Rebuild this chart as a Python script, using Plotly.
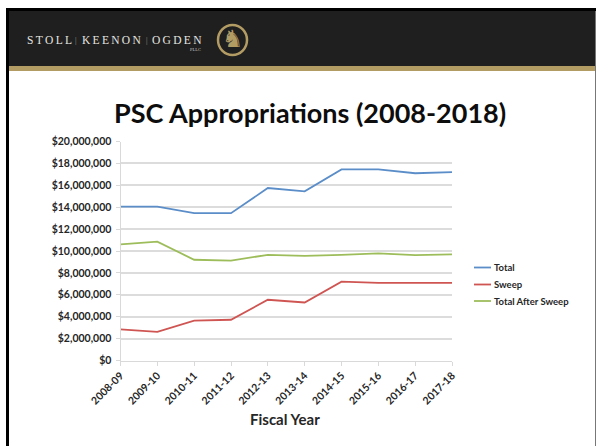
import plotly.graph_objects as go

W, H = 596, 446

fiscal_years = ["2008-09", "2009-10", "2010-11", "2011-12", "2012-13",
                "2013-14", "2014-15", "2015-16", "2016-17", "2017-18"]
total = [14050000, 14050000, 13450000, 13450000, 15750000,
         15450000, 17450000, 17450000, 17100000, 17200000]
sweep = [2850000, 2620000, 3650000, 3720000, 5550000,
         5300000, 7200000, 7080000, 7080000, 7080000]
after_sweep = [10600000, 10850000, 9200000, 9120000, 9650000,
               9550000, 9650000, 9780000, 9620000, 9700000]
y_ticks = list(range(0, 20000001, 2000000))
y_labels = [f"${v:,}" for v in y_ticks]

series_names = ["Total", "Sweep", "Total After Sweep"]
series_colors = ["#5b8ec9", "#cf5552", "#9dbd5b"]


def px(x):
    return x / W


def py(y):
    return 1 - y / H


def rect(x0, y0, x1, y1, color):
    return dict(type="rect", xref="paper", yref="paper", layer="below",
                x0=px(x0), x1=px(x1), y0=py(y0), y1=py(y1),
                fillcolor=color, line_width=0)


def label(x, y, text, size, color="#111111", family="Lato", anchor="center", bold=False):
    return dict(xref="paper", yref="paper", x=px(x), y=py(y), text=f"<b>{text}</b>" if bold else text,
                showarrow=False, xanchor=anchor, yanchor="middle",
                font=dict(family=family, size=size, color=color))


def tracked(word):
    # Wide letterspacing for the firm name
    return "\u2009".join(word)


GOLD = "#b39b64"
fig = go.Figure()
for name, values, color in zip(series_names, [total, sweep, after_sweep], series_colors):
    fig.add_trace(go.Scatter(x=fiscal_years, y=values, name=name, mode="lines",
                             showlegend=False, line=dict(color=color, width=1.8)))

# Slide frame, letterhead band and logo ring
shapes = [
    rect(6, 8, 596, 446, "#000000"),
    rect(9, 11, 595, 446, "#ffffff"),
    rect(595, 11, 596, 446, "#777777"),
    rect(9, 11, 595, 66, "#1f1f1f"),
    rect(9, 66, 595, 71, GOLD),
    dict(type="circle", xref="paper", yref="paper", layer="above",
         x0=px(218), x1=px(247), y0=py(55), y1=py(25),
         fillcolor="rgba(0,0,0,0)", line=dict(color=GOLD, width=2.5)),
]

annotations = [
    label(24.5, 40.5, tracked("STOLL"), 11.5, "#e6e6e0", "Liberation Serif", "left"),
    label(80, 40.5, tracked("KEENON"), 11.5, "#e6e6e0", "Liberation Serif", "left"),
    label(150, 40.5, tracked("OGDEN"), 11.5, "#e6e6e0", "Liberation Serif", "left"),
    label(76, 40.5, "|", 8, "#999999", "Liberation Serif"),
    label(146.5, 40.5, "|", 8, "#999999", "Liberation Serif"),
    label(195, 49.5, "PLLC", 4.5, "#c8c8c2", "Liberation Serif"),
    label(232.5, 39.5, "♞", 24, GOLD, "DejaVu Sans"),
    label(310, 113, "PSC Appropriations (2008-2018)", 27, "#0d0d0d", bold=True),
    label(285, 419, "Fiscal Year", 15, "#262626", bold=True),
]

# Compact legend with short keys to the right of the plot
for row_y, name, color in zip([267.5, 284.5, 301], series_names, series_colors):
    shapes.append(dict(type="line", xref="paper", yref="paper",
                       x0=px(474), x1=px(491), y0=py(row_y), y1=py(row_y),
                       line=dict(color=color, width=1.8)))
    annotations.append(label(492, row_y, name, 9.5, "#262626", anchor="left", bold=True))

fig.update_layout(
    width=W, height=H, autosize=False,
    margin=dict(l=0, r=0, t=0, b=0, autoexpand=False),
    paper_bgcolor="#ffffff", plot_bgcolor="#ffffff",
    shapes=shapes, annotations=annotations,
    font=dict(family="Lato", color="#262626"),
    showlegend=False,
    xaxis=dict(domain=[px(120.5), px(452)], type="category", range=[0, 9],
               showgrid=False, showline=True, linecolor="#d9d9d9", linewidth=1,
               ticks="outside", ticklen=4, tickcolor="#d9d9d9", tickangle=-45,
               tickfont=dict(size=10.5, color="#262626", weight="bold")),
    yaxis=dict(domain=[py(360.5), py(141.5)], range=[0, 20000000],
               tickmode="array", tickvals=y_ticks, ticktext=y_labels,
               showgrid=True, gridcolor="#dcdcdc", gridwidth=1.5,
               showline=True, linecolor="#d9d9d9", linewidth=1, zeroline=False,
               ticks="outside", ticklen=4, tickcolor="#d9d9d9", ticklabelstandoff=2,
               tickfont=dict(size=10.5, color="#262626", weight="bold")),
)

fig.write_html("out.html")
